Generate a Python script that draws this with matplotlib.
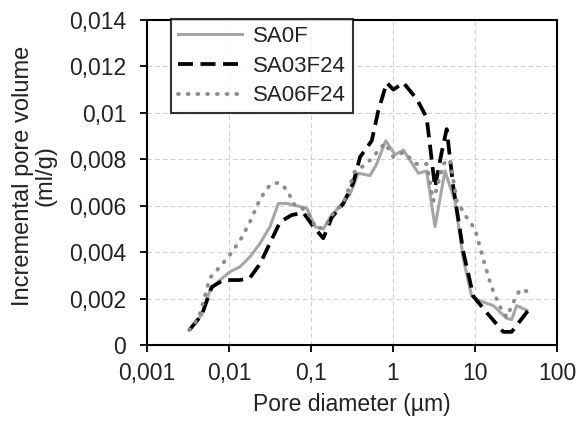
import matplotlib
matplotlib.use("Agg")
import matplotlib.pyplot as plt
from matplotlib.ticker import FixedLocator, FixedFormatter, NullLocator

plt.rcParams['font.family'] = ['Liberation Sans', 'DejaVu Sans']

# ---- data (diameter in um, volume in ml/g) ----
d_sa0f = [0.00328, 0.00465, 0.00586, 0.00776, 0.0103, 0.0136, 0.018, 0.0239, 0.0316,
          0.04, 0.0505, 0.0668, 0.0885, 0.112, 0.141, 0.171, 0.226, 0.299, 0.378,
          0.525, 0.631, 0.815, 1.057, 1.337, 2.037, 2.57, 3.25, 4.3, 5.7, 7.21,
          9.1, 11.48, 16.75, 24.3, 28.0, 32.2, 42.7]
v_sa0f = [0.00065, 0.0013, 0.00237, 0.0028, 0.00316, 0.00337, 0.0038, 0.00438, 0.0051,
          0.0061, 0.0061, 0.0060, 0.0059, 0.0051, 0.0050, 0.0055, 0.0060, 0.0065, 0.0074,
          0.0073, 0.0078, 0.0088, 0.0082, 0.0084, 0.0074, 0.0075, 0.0051, 0.0075, 0.0062,
          0.0037, 0.0021, 0.0019, 0.0017, 0.00115, 0.0011, 0.0017, 0.0015]

d_sa03 = [0.00328, 0.00465, 0.00615, 0.00853, 0.0136, 0.018, 0.0239, 0.0316, 0.0419,
          0.058, 0.0807, 0.107, 0.141, 0.179, 0.248, 0.328, 0.396, 0.55, 0.662,
          0.838, 1.01, 1.337, 1.945, 2.57, 3.25, 3.92, 4.51, 5.44, 7.21, 9.55,
          13.87, 22.1, 28.0, 44.7]
v_sa03 = [0.00065, 0.0013, 0.0025, 0.0028, 0.0028, 0.0029, 0.0035, 0.0044, 0.0053,
          0.0056, 0.0057, 0.0051, 0.0046, 0.0055, 0.0061, 0.0070, 0.0081, 0.0088, 0.0101,
          0.0113, 0.0110, 0.0113, 0.0106, 0.0098, 0.0068, 0.0083, 0.0093, 0.0068, 0.0040,
          0.0021, 0.0014, 0.00057, 0.00057, 0.0015]

d_sa06 = [0.00328, 0.0043, 0.00586, 0.00776, 0.0103, 0.0136, 0.018, 0.0239, 0.0316,
          0.04, 0.0505, 0.0638, 0.0885, 0.117, 0.148, 0.188, 0.248, 0.344, 0.477,
          0.798, 1.01, 1.337, 1.945, 2.57, 3.1, 4.1, 4.95, 6.0, 7.9, 10.0, 12.6,
          15.9, 20.2, 24.3, 30.8, 35.5, 44.7]
v_sa06 = [0.00065, 0.0012, 0.0029, 0.00337, 0.0039, 0.0045, 0.0053, 0.0063, 0.0069,
          0.0070, 0.0067, 0.0060, 0.0058, 0.0050, 0.0051, 0.0057, 0.0061, 0.0075, 0.0078,
          0.0087, 0.0081, 0.0083, 0.0078, 0.0078, 0.0062, 0.0078, 0.0080, 0.0062, 0.0055,
          0.0050, 0.0037, 0.0025, 0.00165, 0.0012, 0.0020, 0.0024, 0.0023]

x_ticks = [0.001, 0.01, 0.1, 1, 10, 100]
x_labels = ["0,001", "0,01", "0,1", "1", "10", "100"]
y_ticks = [0, 0.002, 0.004, 0.006, 0.008, 0.01, 0.012, 0.014]
y_labels = ["0", "0,002", "0,004", "0,006", "0,008", "0,01", "0,012", "0,014"]

fig = plt.figure(figsize=(5.79, 4.26), dpi=100)
ax = fig.add_axes([0.254, 0.19, 0.708, 0.763])

ax.plot(d_sa0f, v_sa0f, color="#a6a6a6", lw=2.2, label="SA0F")
ax.plot(d_sa03, v_sa03, color="black", lw=2.7, ls=(0, (4, 2)), label="SA03F24")
ax.plot(d_sa06, v_sa06, color="#8c8c8c", lw=2.8, ls=(0, (0.2, 2.3)),
        dash_capstyle="round", label="SA06F24")

ax.set_xscale("log")
ax.set_xlim(0.001, 100)
ax.set_ylim(0, 0.014)
ax.xaxis.set_major_locator(FixedLocator(x_ticks))
ax.xaxis.set_major_formatter(FixedFormatter(x_labels))
ax.xaxis.set_minor_locator(NullLocator())
ax.set_yticks(y_ticks)
ax.set_yticklabels(y_labels)

ax.grid(True, color="#d0d0d0", ls=(0, (4, 3)), lw=0.8)
ax.tick_params(direction="out", length=5, width=1.3, labelsize=16.5, colors="black",
               labelcolor="#222222")
ax.tick_params(axis="y", pad=10)
ax.tick_params(axis="x", pad=7)
for s in ax.spines.values():
    s.set_linewidth(1.5)

ax.set_xlabel("Pore diameter (µm)", fontsize=16.5, color="#222222", labelpad=6)
ax.set_ylabel("Incremental pore volume\n(ml/g)", fontsize=17, color="#222222",
              linespacing=1.05)
ax.yaxis.set_label_coords(-0.22, 0.52)

leg = ax.legend(loc="upper left", bbox_to_anchor=(0.058, 1.003), fontsize=16,
                frameon=True, fancybox=False, edgecolor="black", handlelength=2.9,
                borderpad=0.3, labelspacing=0.4, handletextpad=0.5, borderaxespad=0)
leg.get_frame().set_linewidth(1.5)
for t in leg.get_texts():
    t.set_color("#222222")

fig.savefig("out.png", dpi=100)
